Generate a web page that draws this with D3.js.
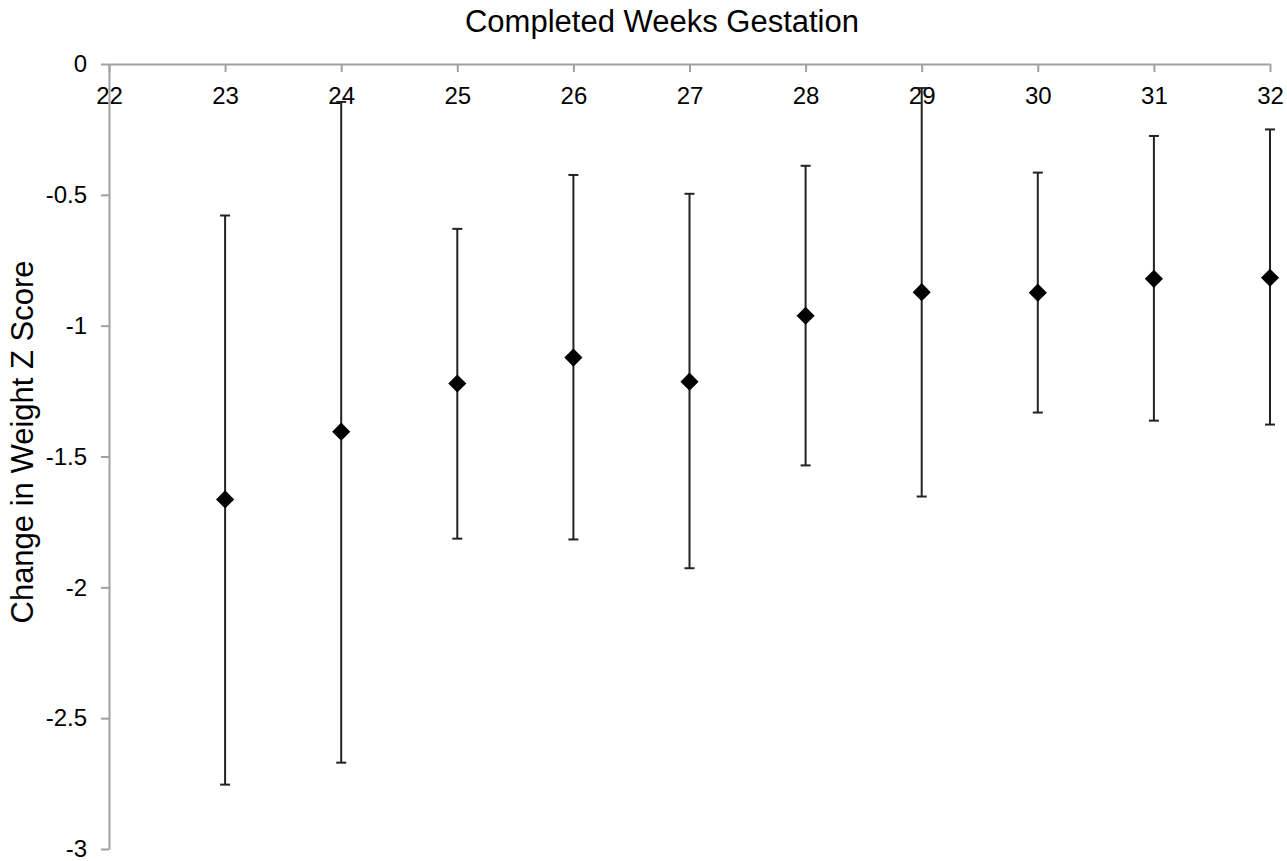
<!DOCTYPE html>
<html>
<head>
<meta charset="utf-8">
<script src="https://cdn.jsdelivr.net/npm/d3@7"></script>
<style>
  body { margin: 0; background: #fff; }
  svg text { font-family: "Liberation Sans", Arial, sans-serif; fill: #000; }
</style>
</head>
<body>
<div id="chart"></div>
<script>
// data
var weeks = [23, 24, 25, 26, 27, 28, 29, 30, 31, 32];
var means = [-1.664, -1.405, -1.221, -1.122, -1.214, -0.962, -0.872, -0.874, -0.821, -0.817];
var upper = [-0.579, -0.145, -0.630, -0.424, -0.496, -0.389, -0.092, -0.415, -0.275, -0.250];
var lower = [-2.754, -2.670, -1.814, -1.817, -1.927, -1.534, -1.653, -1.332, -1.363, -1.378];
var xTicks = [22, 23, 24, 25, 26, 27, 28, 29, 30, 31, 32];
var yTicks = [0, -0.5, -1, -1.5, -2, -2.5, -3];

var width = 1287,
    height = 861,
    margin = {top: 64, right: 17, bottom: 11, left: 109};

var svg = d3.select('#chart')
  .append('svg')
  .attr('width', width)
  .attr('height', height);

var x = d3.scaleLinear()
  .domain([22, 32])
  .range([margin.left, width - margin.right]);

var y = d3.scaleLinear()
  .domain([-3, 0])
  .range([height - margin.bottom - 1, margin.top]);

// x axis sits at y = 0, labels drawn below the line
var xAxis = svg.append('g')
  .attr('transform', 'translate(0,' + y(0) + ')')
  .call(d3.axisBottom(x).tickValues(xTicks).tickSize(8).tickSizeOuter(0).tickFormat(d3.format('d')));

xAxis.select('.domain').attr('stroke', '#a0a0a0').attr('stroke-width', 2);
xAxis.selectAll('.tick line').attr('stroke', '#a0a0a0').attr('stroke-width', 2);
xAxis.selectAll('.tick text')
  .attr('font-size', 24)
  .attr('font-family', '"Liberation Sans", Arial, sans-serif')
  .attr('fill', '#000')
  .attr('dy', null)
  .attr('y', 40);

// plain hyphen like the original, not the unicode minus
var yFmt = function(d) { return String(d); };

var yAxis = svg.append('g')
  .attr('transform', 'translate(' + x(22) + ',0)')
  .call(d3.axisLeft(y).tickValues(yTicks).tickSize(8).tickSizeOuter(0).tickFormat(yFmt));

yAxis.select('.domain').attr('stroke', '#a0a0a0').attr('stroke-width', 2);
yAxis.selectAll('.tick line').attr('stroke', '#a0a0a0').attr('stroke-width', 2);
yAxis.selectAll('.tick text')
  .attr('font-size', 24)
  .attr('font-family', '"Liberation Sans", Arial, sans-serif')
  .attr('fill', '#000')
  .attr('x', -22);

// error bars
var bars = svg.append('g');
weeks.forEach(function(w, i) {
  var cx = x(w);
  bars.append('line')
    .attr('x1', cx).attr('x2', cx)
    .attr('y1', y(upper[i])).attr('y2', y(lower[i]))
    .attr('stroke', '#222').attr('stroke-width', 2);
  [upper[i], lower[i]].forEach(function(v) {
    bars.append('line')
      .attr('x1', cx - 5).attr('x2', cx + 5)
      .attr('y1', y(v)).attr('y2', y(v))
      .attr('stroke', '#222').attr('stroke-width', 2);
  });
});

// diamond markers
svg.append('g')
  .selectAll('path')
  .data(weeks)
  .enter()
  .append('path')
  .attr('d', d3.symbol().type(d3.symbolDiamond2).size(210))
  .attr('transform', function(d, i) { return 'translate(' + x(d) + ',' + y(means[i]) + ')'; })
  .attr('fill', '#000');

svg.append('text')
  .attr('x', 662)
  .attr('y', 32)
  .attr('text-anchor', 'middle')
  .attr('font-size', 31)
  .text('Completed Weeks Gestation');

svg.append('text')
  .attr('transform', 'translate(33,' + 442 + ') rotate(-90)')
  .attr('text-anchor', 'middle')
  .attr('font-size', 31)
  .text('Change in Weight Z Score');
</script>
</body>
</html>
